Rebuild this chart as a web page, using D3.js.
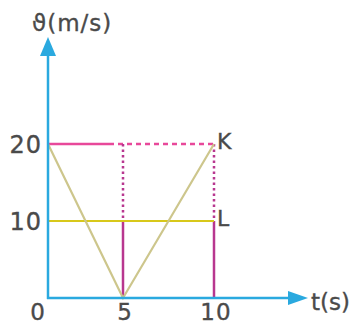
<!DOCTYPE html>
<html>
<head>
<meta charset="utf-8">
<script src="https://cdn.jsdelivr.net/npm/d3@7"></script>
<style>
  html, body { margin: 0; padding: 0; background: #fff; }
  svg { display: block; }
  text { font-family: "DejaVu Sans", sans-serif; fill: #4a4a4a; stroke: #4a4a4a; stroke-width: 0.35px; }
</style>
</head>
<body>
<svg id="chart" width="358" height="327"></svg>
<script>
// Time ticks (s) and velocity ticks (m/s)
const tTicks = [0, 5, 10];
const vTicks = [0, 10, 20];

// Velocity–time path of the moving body: 20 → 0 → 20 m/s
const pathT = [0, 5, 10];
const pathV = [20, 0, 20];

// Reference levels
const levelK = 20;   // upper level, ends at point K
const levelL = 10;   // lower level, ends at point L
const tEnd = 10;
const tMid = 5;

const points = [
  { name: "K", t: 10, v: 20 },
  { name: "L", t: 10, v: 10 }
];

const svg = d3.select("#chart");

const x = d3.scaleLinear().domain([0, 5, 10]).range([48, 123, 214]);
const y = d3.scaleLinear().domain([0, 20]).range([298, 144]);

const axisColor = "#2aa9df";
const pink = "#e8489a";
const purple = "#b8378f";
const yellow = "#d8c81a";
const khaki = "#cdc68c";

// Horizontal level at v = 20: solid up to t = 5, dashed beyond
svg.append("line")
  .attr("x1", x(0)).attr("x2", x(tMid) - 14)
  .attr("y1", y(levelK)).attr("y2", y(levelK))
  .attr("stroke", pink).attr("stroke-width", 2.5);
svg.append("line")
  .attr("x1", x(tMid) - 14).attr("x2", x(tEnd))
  .attr("y1", y(levelK)).attr("y2", y(levelK))
  .attr("stroke", pink).attr("stroke-width", 2.5)
  .attr("stroke-dasharray", "5,4");

// Verticals at t = 5 and t = 10: dotted above v = 10, solid below
[tMid, tEnd].forEach(t => {
  svg.append("line")
    .attr("x1", x(t)).attr("x2", x(t))
    .attr("y1", y(levelK)).attr("y2", y(levelL))
    .attr("stroke", purple).attr("stroke-width", 2.5)
    .attr("stroke-dasharray", "2.5,3");
  svg.append("line")
    .attr("x1", x(t)).attr("x2", x(t))
    .attr("y1", y(levelL)).attr("y2", y(0))
    .attr("stroke", purple).attr("stroke-width", 2.5);
});

// Horizontal level at v = 10
svg.append("line")
  .attr("x1", x(0)).attr("x2", x(tEnd))
  .attr("y1", y(levelL)).attr("y2", y(levelL))
  .attr("stroke", yellow).attr("stroke-width", 2.2);

// V-shaped velocity graph
const line = d3.line().x(d => x(d[0])).y(d => y(d[1]));
svg.append("path")
  .datum(pathT.map((t, i) => [t, pathV[i]]))
  .attr("d", line)
  .attr("fill", "none")
  .attr("stroke", khaki).attr("stroke-width", 2.2);

// Axes with arrowheads
svg.append("line")
  .attr("x1", x(0)).attr("x2", x(0))
  .attr("y1", y(0) + 1).attr("y2", 54)
  .attr("stroke", axisColor).attr("stroke-width", 2.5);
svg.append("path")
  .attr("d", `M${x(0)},37 L${x(0) - 8},56 L${x(0) + 8},56 Z`)
  .attr("fill", axisColor);
svg.append("line")
  .attr("x1", x(0) - 1).attr("x2", 290)
  .attr("y1", y(0)).attr("y2", y(0))
  .attr("stroke", axisColor).attr("stroke-width", 2.5);
svg.append("path")
  .attr("d", `M308,${y(0)} L288,${y(0) - 7} L288,${y(0) + 7} Z`)
  .attr("fill", axisColor);

// Tick labels
svg.selectAll(".vtick")
  .data(vTicks.filter(v => v > 0))
  .join("text")
  .attr("x", 42).attr("y", d => y(d))
  .attr("dy", "0.36em")
  .attr("text-anchor", "end")
  .attr("font-size", 24)
  .attr("letter-spacing", 1)
  .text(d => d);

svg.selectAll(".ttick")
  .data(tTicks)
  .join("text")
  .attr("x", d => d === 0 ? x(d) - 10 : x(d) + 2)
  .attr("y", 320)
  .attr("text-anchor", "middle")
  .attr("font-size", 23)
  .attr("letter-spacing", 1)
  .text(d => d);

// Axis titles
svg.append("text")
  .attr("x", 32).attr("y", 31)
  .attr("font-size", 23)
  .attr("letter-spacing", 1)
  .text("ϑ(m/s)");
svg.append("text")
  .attr("x", 311).attr("y", 310)
  .attr("font-size", 23)
  .text("t(s)");

// Point labels
svg.selectAll(".pt")
  .data(points)
  .join("text")
  .attr("x", d => x(d.t) + 3)
  .attr("y", d => y(d.v) + 5)
  .attr("font-size", 22)
  .text(d => d.name);
</script>
</body>
</html>
